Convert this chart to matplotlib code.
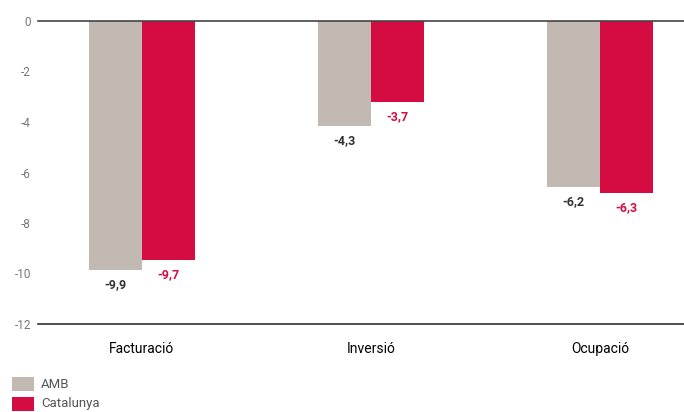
import matplotlib
matplotlib.use("Agg")
import matplotlib.pyplot as plt
import numpy as np
from matplotlib.patches import Rectangle

categories = ["Facturació", "Inversió", "Ocupació"]
series_names = ["AMB", "Catalunya"]
amb_bars = [-9.86, -4.15, -6.56]
cat_bars = [-9.47, -3.21, -6.80]
amb_labels = ["-9,9", "-4,3", "-6,2"]
cat_labels = ["-9,7", "-3,7", "-6,3"]
yticks = [0, -2, -4, -6, -8, -10, -12]

GRAY = "#c3b9b3"
RED = "#d50c42"
plt.rcParams['font.family'] = ['Roboto', 'DejaVu Sans']

fig = plt.figure(figsize=(6.84, 4.12), dpi=100)
W, H = 684, 412
ax = fig.add_axes([38 / W, 1 - 324 / H, (684 - 38) / W, (324 - 21) / H])

x = np.arange(len(categories))
bw = 0.231
ax.bar(x - bw / 2, amb_bars, width=bw, color=GRAY, label=series_names[0])
ax.bar(x + bw / 2, cat_bars, width=bw, color=RED, label=series_names[1])

for xi, v, t in zip(x, amb_bars, amb_labels):
    ax.annotate(t, (xi - bw / 2, v), xytext=(0, -10.5), textcoords="offset points",
                ha="center", va="center", fontsize=9, fontweight="bold", color="#333333")
for xi, v, t in zip(x, cat_bars, cat_labels):
    ax.annotate(t, (xi + bw / 2, v), xytext=(0, -10.5), textcoords="offset points",
                ha="center", va="center", fontsize=9, fontweight="bold", color=RED)

ax.set_xlim(-0.454, 2.367)
ax.set_ylim(-12, 0)
ax.set_yticks(yticks)
ax.set_yticklabels([str(t) for t in yticks], color="#777777", fontsize=8.5)
ax.set_xticks(x)
ax.set_xticklabels(categories, fontsize=12, color="#333333")
ax.tick_params(axis="y", length=0, pad=5)
ax.tick_params(axis="x", length=0, pad=13)
for s in ["left", "right"]:
    ax.spines[s].set_visible(False)
ax.spines["top"].set_position(("data", 0))
ax.spines["top"].set_color("#444444")
ax.spines["bottom"].set_color("#333333")
ax.spines["top"].set_linewidth(1.2)
ax.spines["bottom"].set_linewidth(1.2)

# legend
for i, (name, col) in enumerate(zip(series_names, [GRAY, RED])):
    y0 = 1 - (391 + 20 * i) / H
    fig.patches.append(Rectangle((12 / W, y0), 22 / W, 14 / H, transform=fig.transFigure,
                                 facecolor=col, edgecolor="none"))
    fig.text(41 / W, y0 + 7 / H, name, fontsize=9.5, color="#555555", va="center", ha="left")

fig.savefig("out.png", dpi=100)
